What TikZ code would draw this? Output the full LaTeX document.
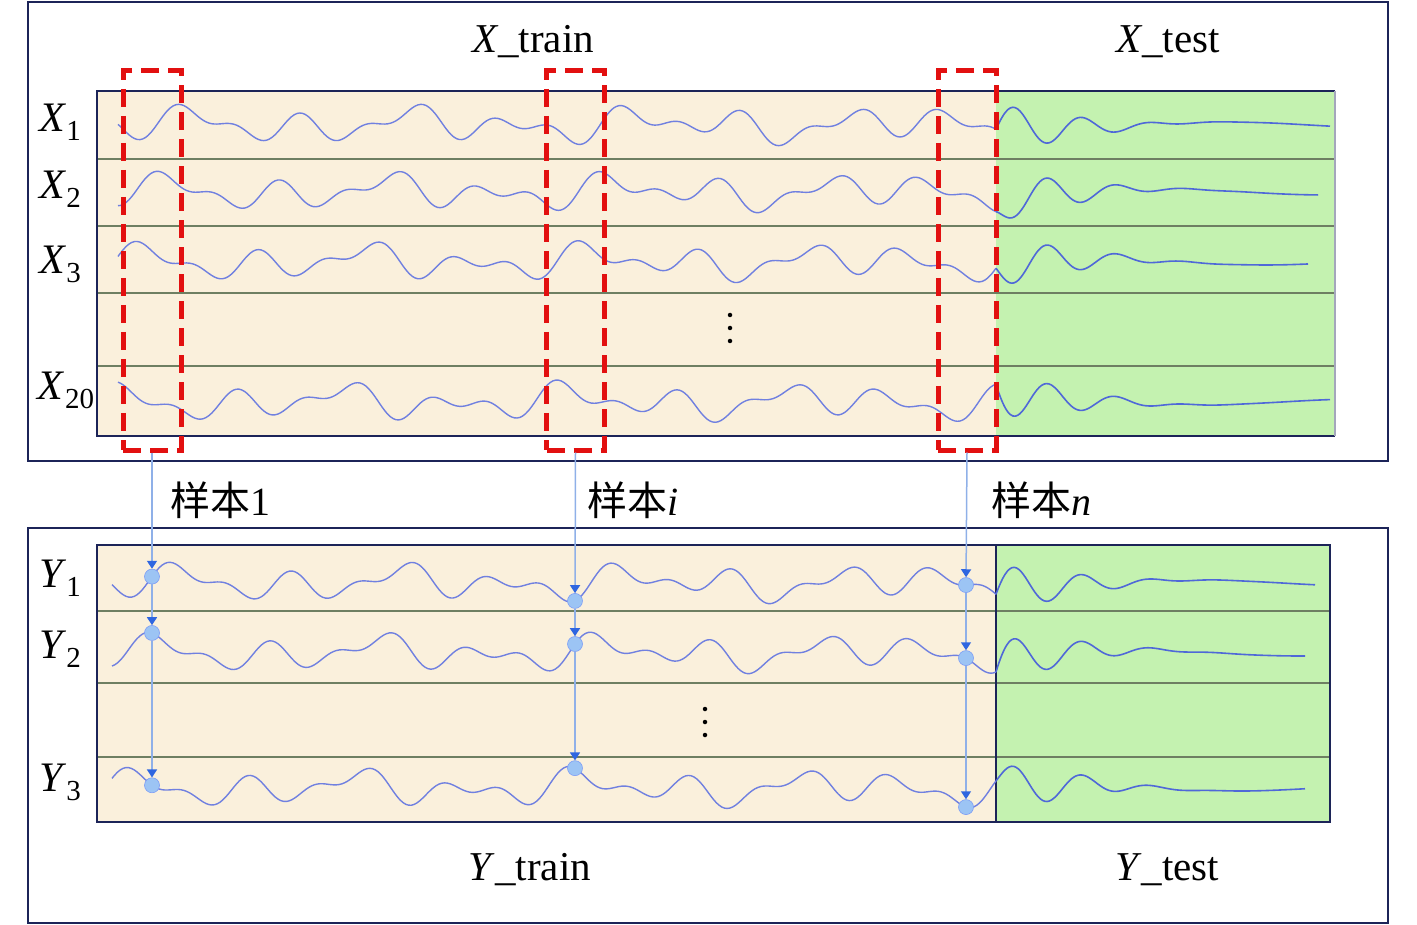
\documentclass[tikz,border=0pt]{standalone}
\usepackage{fontspec}
\setmainfont{Liberation Serif}
\newfontfamily\cjkfont{Noto Sans CJK SC}
\usetikzlibrary{arrows.meta}
\definecolor{trainbg}{HTML}{FAF0DC}
\definecolor{testbg}{HTML}{C4F2B0}
\definecolor{framecol}{HTML}{1C2458}
\definecolor{rowline}{HTML}{6E7F62}
\definecolor{wavecol}{HTML}{7080E0}
\definecolor{testwave}{HTML}{4F68D8}
\definecolor{linkcol}{HTML}{8FB0E8}
\definecolor{tipcol}{HTML}{2F66E0}
\definecolor{dotcol}{HTML}{9CC4F4}
\definecolor{samplered}{HTML}{E21010}
\newcommand{\lowsub}[1]{\raisebox{-9pt}{\fontsize{29}{30}\selectfont #1}}
\tikzset{
  outerbox/.style={draw=framecol, line width=2.5pt},
  panel/.style={draw=framecol, line width=2.5pt},
  rowsep/.style={draw=rowline, line width=2pt},
  sig/.style={wavecol, line width=1.4pt, smooth},
  testsig/.style={testwave, line width=1.6pt, smooth},
  samplebox/.style={draw=samplered, line width=5pt, dash pattern=on 18pt off 9pt,
    minimum width=58pt, minimum height=379pt, inner sep=0pt},
  sdot/.style={circle, fill=dotcol, draw=dotcol!80!blue, line width=0.6pt,
    minimum size=15pt, inner sep=0pt},
  link/.style={linkcol, line width=1.5pt, -{Triangle[width=10pt,length=8pt,color=tipcol]}},
  lab/.style={font=\fontsize{42}{46}\selectfont, inner sep=0pt},
  setlab/.style={font=\fontsize{41}{46}\selectfont, inner sep=0pt},
  cjklab/.style={font=\fontsize{40}{44}\selectfont, inner sep=0pt, anchor=west},
  vdot/.style={circle, fill=black, minimum size=4.5pt, inner sep=0pt}
}
\begin{document}
\begin{tikzpicture}[x=1pt, y=-1pt,
  declare function={w(\t,\p)=10*sin(3.3*\t+\p)+8*sin(5.7*\t+1.7*\p)+6*sin(1.5*\t+0.6*\p);
    g(\t,\p,\s)=w(996,\p)*exp(-(\t-996)/12)-\s*20*exp(-((\t-996)/105)^2)*sin((\t-996)*5.2)
      +3*sin(1.1*\t+\p)*(1-exp(-(\t-996)/30));}]
\useasboundingbox (0,0) rectangle (1417,925);
% outer frames
\draw[outerbox] (28,2) rectangle (1388,461);
\draw[outerbox] (28,528) rectangle (1388,923);
% X panel
\fill[trainbg] (97,91) rectangle (996,436);
\fill[testbg] (996,91) rectangle (1335,436);
\foreach \y in {159,226,293,366} \draw[rowsep] (97,\y) -- (1335,\y);
\draw[panel] (1335,436) -- (97,436) -- (97,91) -- (1335,91);
\draw[line width=2.5pt, draw=framecol!40!white] (1335,91) -- (1335,436);
% Y panel
\fill[trainbg] (97,545) rectangle (996,822);
\fill[testbg] (996,545) rectangle (1330,822);
\foreach \y in {611,683,757} \draw[rowsep] (97,\y) -- (1330,\y);
\draw[panel] (97,545) rectangle (1330,822);
\draw[panel] (996,545) -- (996,822);
% signals
\foreach \yc/\p/\s/\xe in {125/0/1/1330, 192/70/-1/1318, 262/140/-1/1308, 402/210/-1/1330}{
  \draw[sig] plot[domain=118:996, samples=320] (\x,{\yc+w(\x,\p)});
  \draw[testsig] plot[domain=996:\xe, samples=140] (\x,{\yc+g(\x,\p,\s)});
}
\foreach \yc/\p/\xe in {583/30/1315, 653/100/1305, 788/170/1305}{
  \draw[sig] plot[domain=112:996, samples=320] (\x,{\yc+w(\x,\p)});
  \draw[testsig] plot[domain=996:\xe, samples=140] (\x,{\yc+g(\x,\p,1)});
}
\foreach \k in {0,1,2} {
  \node[vdot] (xd\k) at (730,{315+13*\k}) {};
  \node[vdot] (yd\k) at (705,{709+13*\k}) {};
}
% samples
\node[samplebox] (box1) at (152,260.5) {};
\node[samplebox] (boxi) at (575.5,260.5) {};
\node[samplebox] (boxn) at (967,260.5) {};
\foreach \c/\xc in {a/152,b/575,c/966}
  \foreach \r/\yc/\p in {1/583/30, 2/653/100, 3/788/170}
    \node[sdot] (\c\r) at (\xc,{\yc+w(\xc,\p)}) {};
\draw[link] (box1.south) -- (a1);
\draw[link] (a1) -- (a2);
\draw[link] (a2) -- (a3);
\draw[link] (boxi.south) -- (b1);
\draw[link] (b1) -- (b2);
\draw[link] (b2) -- (b3);
\draw[link] (boxn.south) -- (c1);
\draw[link] (c1) -- (c2);
\draw[link] (c2) -- (c3);
% labels
\node[setlab] (xtrain) at (533,42) {\textit{X}\_train};
\node[setlab] (xtest) at (1168,42) {\textit{X}\_test};
\node[setlab] (ytrain) at (530,870) {\textit{Y}\_train};
\node[setlab] (ytest) at (1167,870) {\textit{Y}\_test};
\node[lab] (x1) at (60,122) {\textit{X}\lowsub{1}};
\node[lab] (x2) at (60,189) {\textit{X}\lowsub{2}};
\node[lab] (x3) at (60,264) {\textit{X}\lowsub{3}};
\node[lab] (x20) at (66,390) {\textit{X}\lowsub{20}};
\node[lab] (y1) at (60,578) {\textit{Y}\lowsub{1}};
\node[lab] (y2) at (60,649) {\textit{Y}\lowsub{2}};
\node[lab] (y3) at (60,782) {\textit{Y}\lowsub{3}};
\node[cjklab] (s1) at (170,500) {{\cjkfont 样本}1};
\node[cjklab] (si) at (587,500) {{\cjkfont 样本}\textit{i}};
\node[cjklab] (sn) at (991,500) {{\cjkfont 样本}\textit{n}};
\end{tikzpicture}
\end{document}
